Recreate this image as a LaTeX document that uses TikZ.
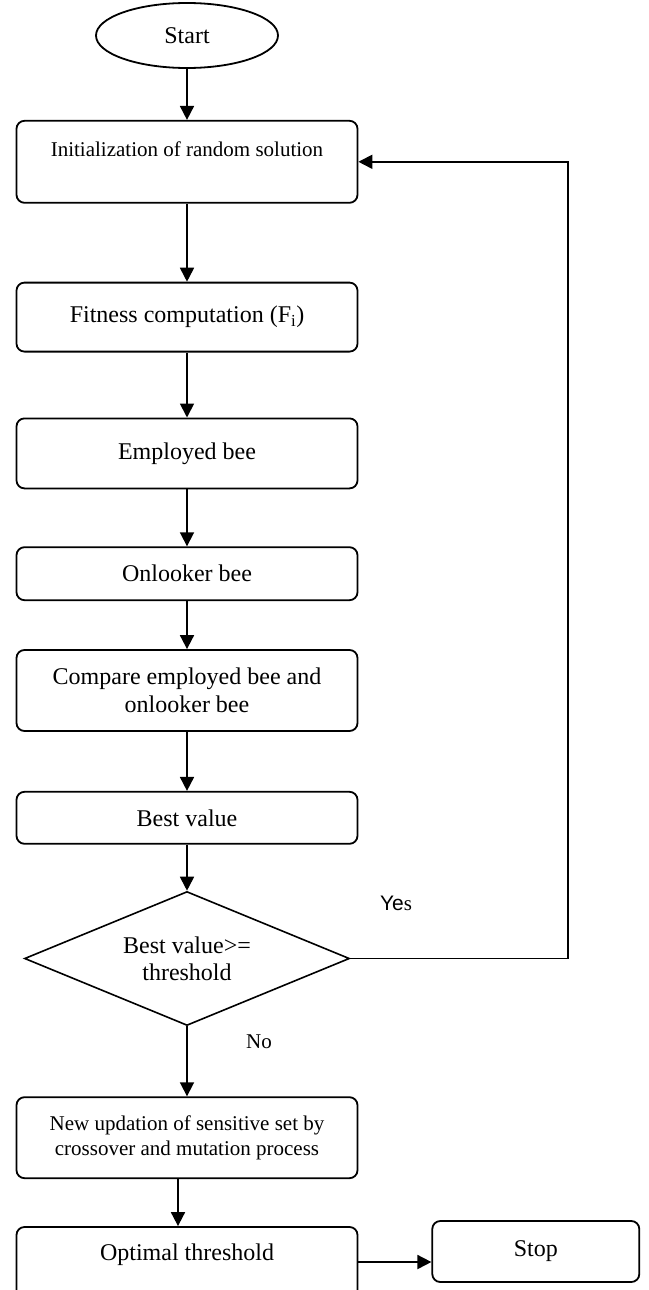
\documentclass[tikz,border=0pt]{standalone}
\usepackage{fontspec}
\setmainfont{Liberation Serif}
\setsansfont{Liberation Sans}
\usepackage{tikz}
\usetikzlibrary{arrows.meta,positioning,shapes.geometric}
\tikzset{
  box/.style     ={rounded corners=8pt,draw=black,line width=1.8pt,minimum width=341pt,
                   inner sep=4pt,align=center,font=\fontsize{24}{28}\selectfont},
  smallbox/.style={box,font=\fontsize{21}{25}\selectfont},
  term/.style    ={ellipse,draw=black,line width=1.8pt,minimum width=182pt,
                   minimum height=65pt,font=\fontsize{24}{28}\selectfont},
  decide/.style  ={diamond,draw=black,line width=1.6pt,aspect=2.43,minimum width=325pt,
                   minimum height=134pt,inner sep=2pt,align=center,
                   font=\fontsize{24}{27}\selectfont},
  flow/.style    ={-{Triangle[length=14pt,width=14pt]},line width=1.8pt,draw=black},
  tag/.style     ={font=\fontsize{21}{25}\selectfont}
}
\begin{document}
\begin{tikzpicture}
        \useasboundingbox[fill=white] (0,0) rectangle (648pt,-1290pt);
        \node[term] (start) at (187pt,-35.5pt) {Start};
        \node[smallbox,below=51pt of start,minimum height=82pt] (init) {Initialization of random solution\\~};
        \node[box,below=78pt of init,minimum height=69pt] (fit) {Fitness computation (F\textsubscript{i})};
        \node[box,below=65pt of fit,minimum height=70pt] (emp) {Employed bee};
        \node[box,below=57pt of emp,minimum height=53pt] (onl) {Onlooker bee};
        \node[box,below=48pt of onl,minimum height=81pt] (cmp) {Compare employed bee and\\onlooker bee};
        \node[box,below=59pt of cmp,minimum height=52pt] (best) {Best value};
        \node[decide,below=46pt of best] (dec) {Best value>=\\threshold};
        \node[smallbox,below=70pt of dec,minimum height=81pt] (upd) {New updation of sensitive set by\\crossover and mutation process};
        \node[box,below=47pt of upd,minimum height=78pt] (opt) {Optimal threshold\\~};
        \node[box,right=73pt of opt,yshift=14.5pt,minimum width=207pt,minimum height=61pt] (stop) {Stop};
        \coordinate[right=218pt of dec.east] (back);
        \node[tag] (yes) at (396pt,-903pt) {{\sffamily Ye}s};
        \node[tag] (no) at (259pt,-1042pt) {No};
        \draw[flow] (start) -- (init);
        \draw[flow] (init) -- (fit);
        \draw[flow] (fit) -- (emp);
        \draw[flow] (emp) -- (onl);
        \draw[flow] (onl) -- (cmp);
        \draw[flow] (cmp) -- (best);
        \draw[flow] (best) -- (dec);
        \draw[flow] (dec) -- (upd);
        \draw[flow] ([xshift=-9pt]upd.south) -- ([xshift=-9pt]opt.north);
        \draw[flow] ([yshift=4pt]opt.east) -- ([yshift=4pt]opt.east -| stop.west);
        \draw[flow] (dec.east) -- (back) |- (init.east);
      \end{tikzpicture}
\end{document}
